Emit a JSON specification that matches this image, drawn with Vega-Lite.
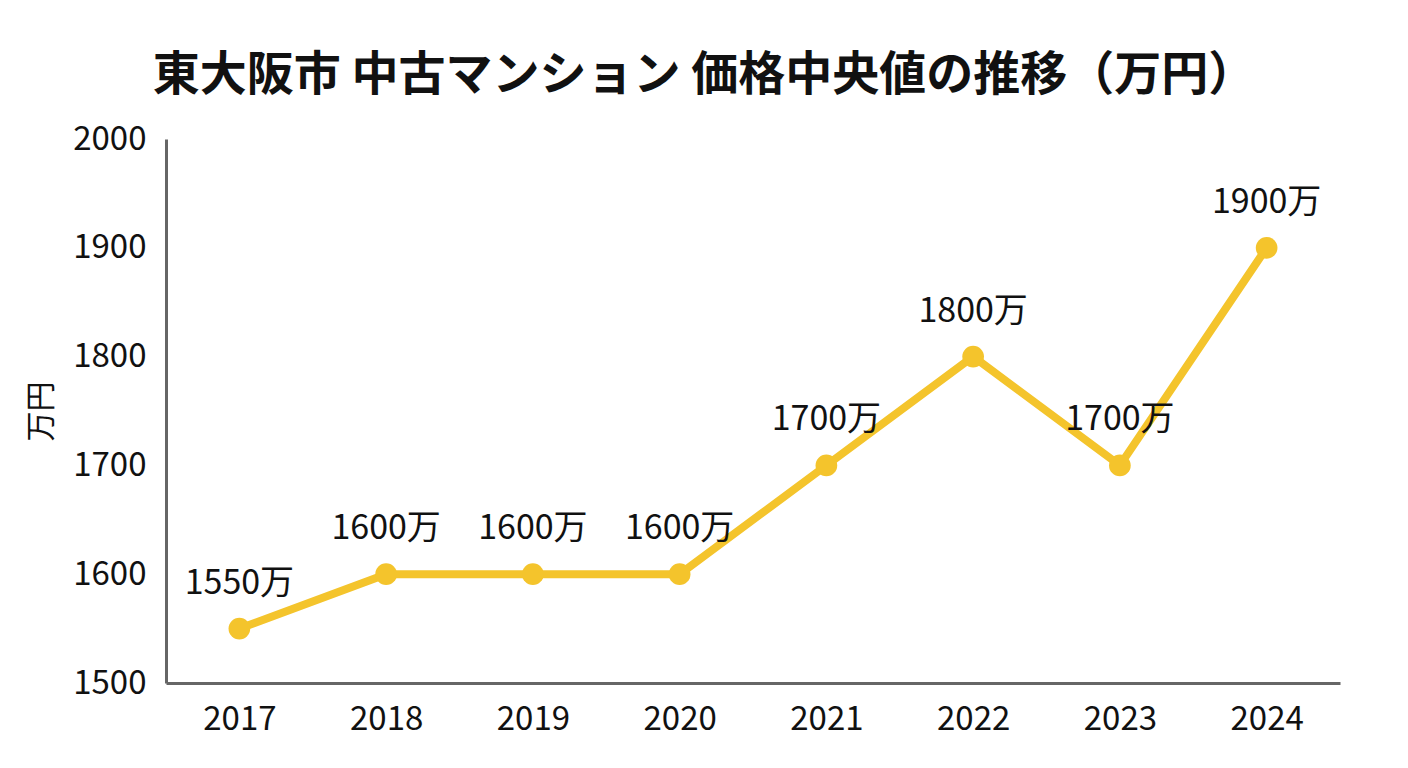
{
  "$schema": "https://vega.github.io/schema/vega-lite/v6.json",
  "autosize": "none",
  "width": 1174,
  "height": 544,
  "padding": {"left": 166, "top": 139, "right": 68, "bottom": 85},
  "background": "white",
  "config": {
    "font": "Noto Sans CJK JP",
    "view": {"stroke": null}
  },
  "title": {
    "text": "東大阪市 中古マンション 価格中央値の推移（万円）",
    "fontSize": 47,
    "fontWeight": "bold",
    "color": "#111",
    "anchor": "middle",
    "frame": "group",
    "dx": -49,
    "offset": 23
  },
  "data": {
    "values": [
      {"year": "2017", "price": 1550, "label": "1550万"},
      {"year": "2018", "price": 1600, "label": "1600万"},
      {"year": "2019", "price": 1600, "label": "1600万"},
      {"year": "2020", "price": 1600, "label": "1600万"},
      {"year": "2021", "price": 1700, "label": "1700万"},
      {"year": "2022", "price": 1800, "label": "1800万"},
      {"year": "2023", "price": 1700, "label": "1700万"},
      {"year": "2024", "price": 1900, "label": "1900万"}
    ]
  },
  "encoding": {
    "x": {
      "field": "year",
      "type": "ordinal",
      "scale": {"type": "point", "padding": 0.5},
      "axis": {
        "title": null,
        "labelAngle": 0,
        "labelFontSize": 33,
        "labelColor": "#111",
        "labelPadding": 20,
        "ticks": false,
        "domainColor": "#666",
        "domainWidth": 3
      }
    },
    "y": {
      "field": "price",
      "type": "quantitative",
      "scale": {"domain": [1500, 2000], "nice": false, "zero": false},
      "axis": {
        "title": "万円",
        "titleFontSize": 30,
        "titleFontWeight": "normal",
        "titleColor": "#111",
        "titlePadding": 16,
        "values": [1500, 1600, 1700, 1800, 1900, 2000],
        "format": "d",
        "labelFontSize": 33,
        "labelColor": "#111",
        "labelPadding": 20,
        "ticks": false,
        "grid": false,
        "domainColor": "#666",
        "domainWidth": 3
      }
    }
  },
  "layer": [
    {
      "mark": {"type": "line", "color": "#F4C42C", "strokeWidth": 8}
    },
    {
      "mark": {"type": "point", "filled": true, "opacity": 1, "color": "#F4C42C", "size": 470}
    },
    {
      "mark": {"type": "text", "dy": -45, "fontSize": 34, "color": "#111", "baseline": "middle"},
      "encoding": {"text": {"field": "label", "type": "nominal"}}
    }
  ]
}
